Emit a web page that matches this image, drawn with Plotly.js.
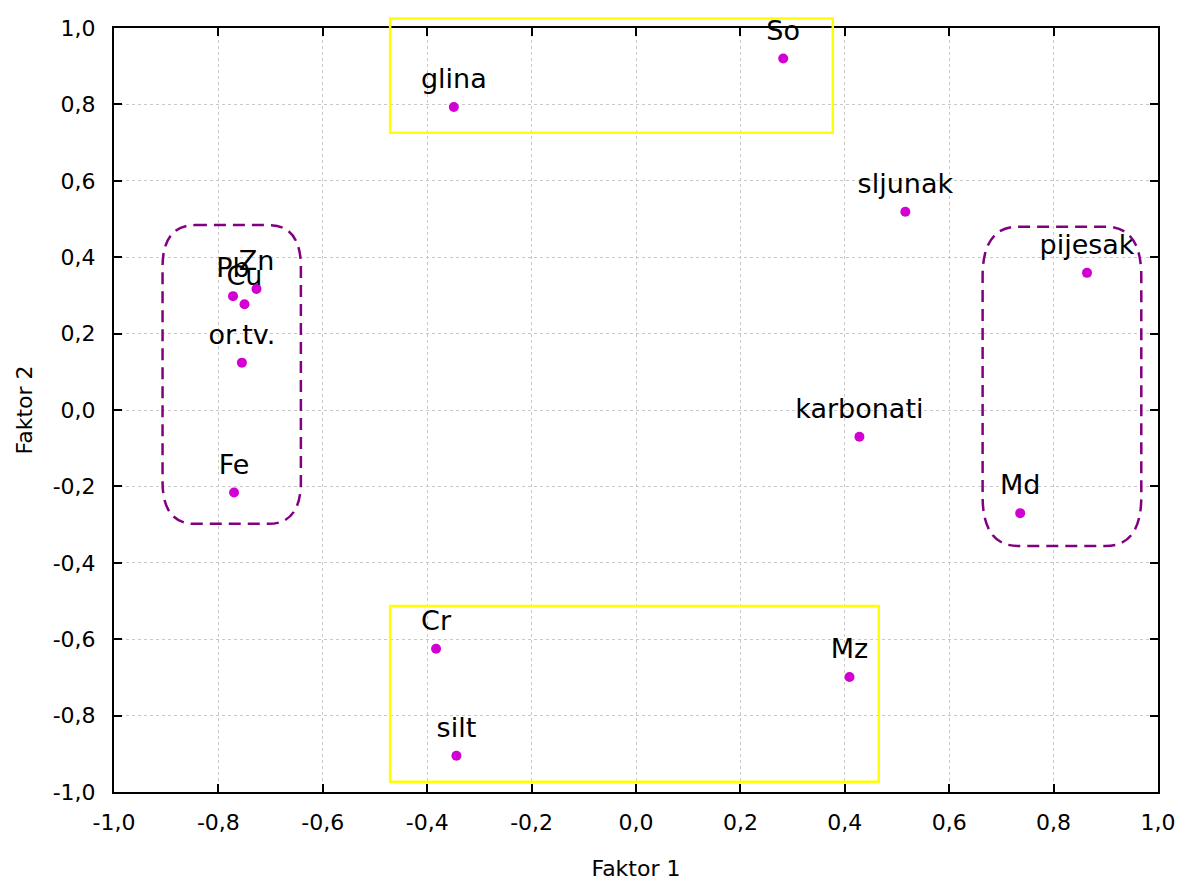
<!DOCTYPE html>
<html>
<head>
<meta charset="utf-8">
<script src="https://cdn.plot.ly/plotly-3.0.1.min.js"></script>
<style>html,body{margin:0;padding:0;background:#fff;}</style>
</head>
<body>
<div id="chart" style="width:1180px;height:881px;"></div>
<script>
const labels = ["glina", "So", "sljunak", "pijesak", "karbonati", "Md", "Pb", "Cu", "Zn", "or.tv.", "Fe", "Cr", "silt", "Mz"];
const faktor1 = [-0.349, 0.282, 0.516, 0.864, 0.428, 0.736, -0.772, -0.750, -0.727, -0.755, -0.770, -0.383, -0.344, 0.409];
const faktor2 = [0.793, 0.920, 0.519, 0.359, -0.070, -0.270, 0.298, 0.277, 0.317, 0.124, -0.216, -0.625, -0.905, -0.699];
const tickVals = [-1.0, -0.8, -0.6, -0.4, -0.2, 0.0, 0.2, 0.4, 0.6, 0.8, 1.0];
const tickText = ["-1,0", "-0,8", "-0,6", "-0,4", "-0,2", "0,0", "0,2", "0,4", "0,6", "0,8", "1,0"];

function roundedPath(x0, x1, y0, y1, rx, ry) {
  return `M ${x0 + rx},${y1} L ${x1 - rx},${y1} Q ${x1},${y1} ${x1},${y1 - ry} ` +
         `L ${x1},${y0 + ry} Q ${x1},${y0} ${x1 - rx},${y0} ` +
         `L ${x0 + rx},${y0} Q ${x0},${y0} ${x0},${y0 + ry} ` +
         `L ${x0},${y1 - ry} Q ${x0},${y1} ${x0 + rx},${y1} Z`;
}

const FONT = "DejaVu Sans, Arial, sans-serif";

const pointTrace = {
  type: "scatter",
  mode: "markers",
  x: faktor1,
  y: faktor2,
  marker: {size: 10, color: "rgb(210,0,210)"},
  cliponaxis: false,
  hoverinfo: "skip"
};

const labelTrace = {
  type: "scatter",
  mode: "markers+text",
  x: faktor1,
  y: faktor2,
  text: labels,
  textposition: "top center",
  textfont: {family: FONT, size: 27, color: "#000"},
  marker: {size: 18, color: "rgba(0,0,0,0)"},
  cliponaxis: false,
  hoverinfo: "text"
};

const axisCommon = {
  range: [-1, 1],
  tickvals: tickVals,
  ticktext: tickText,
  ticks: "inside",
  ticklen: 8,
  tickwidth: 2,
  tickcolor: "#000",
  showline: true,
  linewidth: 2,
  linecolor: "#000",
  mirror: "ticks",
  showgrid: true,
  gridcolor: "#c8c8c8",
  griddash: "3px,3px",
  gridwidth: 1,
  zeroline: false,
  tickfont: {family: FONT, size: 22, color: "#000"},
  automargin: false
};

const layout = {
  width: 1180,
  height: 881,
  margin: {l: 114, r: 22, t: 28, b: 89},
  paper_bgcolor: "#fff",
  plot_bgcolor: "#fff",
  showlegend: false,
  xaxis: Object.assign({}, axisCommon, {
    ticklabelstandoff: 10,
    title: {text: "Faktor 1", font: {family: FONT, size: 22, color: "#000"}, standoff: 28}
  }),
  yaxis: Object.assign({}, axisCommon, {
    ticklabelstandoff: 12,
    title: {text: "Faktor 2", font: {family: FONT, size: 22, color: "#000"}, standoff: 14}
  }),
  shapes: [
    {type: "rect", xref: "paper", yref: "paper", x0: 0.2645, x1: 0.6885, y0: 0.863, y1: 1.0125,
     line: {color: "#ffff00", width: 2.5}, layer: "above"},
    {type: "rect", xref: "x", yref: "y", x0: -0.471, x1: 0.465, y0: -0.973, y1: -0.513,
     line: {color: "#ffff00", width: 2.5}, layer: "above"},
    {type: "path", xref: "x", yref: "y", path: roundedPath(-0.907, -0.642, -0.298, 0.484, 0.062, 0.11),
     line: {color: "#800080", width: 2.5, dash: "12px,7px"}, layer: "above"},
    {type: "path", xref: "x", yref: "y", path: roundedPath(0.664, 0.968, -0.356, 0.480, 0.068, 0.13),
     line: {color: "#800080", width: 2.5, dash: "12px,7px"}, layer: "above"}
  ]
};

Plotly.newPlot("chart", [pointTrace, labelTrace], layout, {displayModeBar: false, staticPlot: true});
</script>
</body>
</html>
